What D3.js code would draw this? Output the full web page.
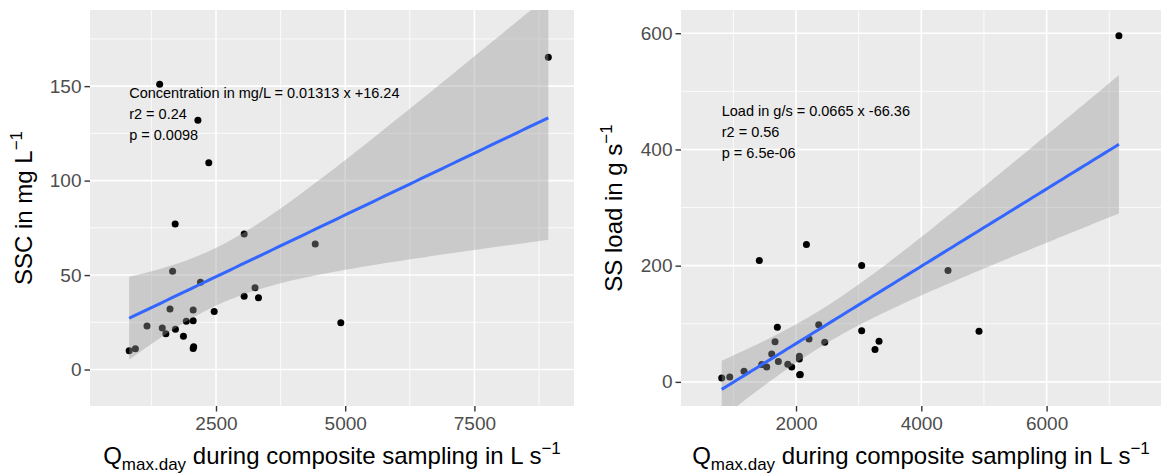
<!DOCTYPE html>
<html><head><meta charset="utf-8">
<script src="https://cdn.jsdelivr.net/npm/d3@7"></script>
<style>
body{margin:0;background:#fff}
svg{display:block}
text{font-family:"Liberation Sans",Arial,Helvetica,sans-serif}
</style>
</head><body>
<svg id="chart" width="1161" height="476"></svg>
<script>
// ---------- data ----------
const qConc = [820, 940, 1165, 1410, 1460, 1530, 1610, 1660, 1710, 1715, 1870, 1925, 2058, 2058, 2058, 2068, 2150, 2200, 2360, 2465, 3045, 3045, 3255, 3322, 4420, 4915, 8930];
const ssc   = [10.0, 11.0, 23.0, 151.0, 22.0, 19.0, 32.0, 52.0, 77.0, 21.3, 17.6, 25.6, 25.8, 31.5, 11.2, 12.0, 132.0, 46.2, 109.5, 30.7, 71.8, 38.8, 43.3, 38.0, 66.5, 24.7, 165.3];

const qLoad = [814, 942, 1170, 1414, 1453, 1532, 1612, 1665, 1702, 1718, 1868, 1931, 2053, 2053, 2058, 2068, 2166, 2208, 2362, 2458, 3048, 3048, 3261, 3325, 4426, 4921, 7154];
const load  = [6.9, 8.6, 18.4, 208.8, 30.0, 25.8, 48.2, 68.9, 94.2, 35.1, 30.5, 25.8, 44.3, 39.6, 12.1, 12.8, 236.4, 73.6, 98.2, 68.4, 200.2, 87.9, 55.8, 70.1, 191.6, 87.3, 595.5];

const concXTicks = [2500, 5000, 7500];
const concYTicks = [0, 50, 100, 150];
const loadXTicks = [2000, 4000, 6000];
const loadYTicks = [0, 200, 400, 600];

const concDomainX = [62, 9427];
const concDomainY = [-19.3, 190.3];
const loadDomainX = [164, 7826];
const loadDomainY = [-41.5, 640];

const concLabels = ["Concentration in mg/L = 0.01313 x +16.24", "r2 = 0.24", "p = 0.0098"];
const loadLabels = ["Load in g/s = 0.0665 x -66.36", "r2 = 0.56", "p = 6.5e-06"];

// ---------- helpers ----------
const svg = d3.select("#chart");
const T975 = 2.0595; // qt(0.975, df = 25)

function lmFit(xs, ys) {
  const n = xs.length;
  const xb = d3.mean(xs), yb = d3.mean(ys);
  let sxx = 0, sxy = 0;
  for (let i = 0; i < n; i++) { sxx += (xs[i]-xb)**2; sxy += (xs[i]-xb)*(ys[i]-yb); }
  const b = sxy / sxx, a = yb - b*xb;
  let sse = 0;
  for (let i = 0; i < n; i++) sse += (ys[i] - a - b*xs[i])**2;
  const s = Math.sqrt(sse / (n-2));
  const x0 = d3.min(xs), x1 = d3.max(xs);
  const pts = d3.range(80).map(k => {
    const x = x0 + (x1-x0)*k/79;
    const fit = a + b*x;
    const se = s*Math.sqrt(1/n + (x-xb)**2/sxx);
    return {x, fit, lo: fit - T975*se, hi: fit + T975*se};
  });
  return {a, b, pts};
}

function minorTicks(major, domain) {
  const step = major[1]-major[0];
  const out = [];
  for (let v = major[0]-step/2; v <= domain[1]; v += step) if (v >= domain[0]) out.push(v);
  for (let v = major[0]-step/2-step; v >= domain[0]; v -= step) out.push(v);
  return out;
}

function panel(cfg) {
  const {left, right, top, bottom, xs, ys, dx, dy, xt, yt, id} = cfg;
  const x = d3.scaleLinear().domain(dx).range([left, right]);
  const y = d3.scaleLinear().domain(dy).range([bottom, top]);
  const g = svg.append("g");

  g.append("clipPath").attr("id", id).append("rect")
    .attr("x", left).attr("y", top).attr("width", right-left).attr("height", bottom-top);

  g.append("rect").attr("x", left).attr("y", top).attr("width", right-left).attr("height", bottom-top)
    .attr("fill", "#EBEBEB");

  const grid = g.append("g").attr("clip-path", `url(#${id})`);
  grid.selectAll(".mx").data(minorTicks(xt, dx)).join("line")
    .attr("x1", d => x(d)).attr("x2", d => x(d)).attr("y1", top).attr("y2", bottom)
    .attr("stroke", "#fff").attr("stroke-width", 0.8);
  grid.selectAll(".my").data(minorTicks(yt, dy)).join("line")
    .attr("y1", d => y(d)).attr("y2", d => y(d)).attr("x1", left).attr("x2", right)
    .attr("stroke", "#fff").attr("stroke-width", 0.8);
  grid.selectAll(".Mx").data(xt).join("line")
    .attr("x1", d => x(d)).attr("x2", d => x(d)).attr("y1", top).attr("y2", bottom)
    .attr("stroke", "#fff").attr("stroke-width", 1.6);
  grid.selectAll(".My").data(yt).join("line")
    .attr("y1", d => y(d)).attr("y2", d => y(d)).attr("x1", left).attr("x2", right)
    .attr("stroke", "#fff").attr("stroke-width", 1.6);

  const plot = g.append("g").attr("clip-path", `url(#${id})`);
  plot.selectAll("circle").data(xs.map((v, i) => [v, ys[i]])).join("circle")
    .attr("cx", d => x(d[0])).attr("cy", d => y(d[1])).attr("r", 3.5).attr("fill", "#000");

  const fit = lmFit(xs, ys);
  plot.append("path").datum(fit.pts)
    .attr("d", d3.area().x(d => x(d.x)).y0(d => y(d.lo)).y1(d => y(d.hi)))
    .attr("fill", "#999999").attr("fill-opacity", 0.4);
  plot.append("path").datum(fit.pts)
    .attr("d", d3.line().x(d => x(d.x)).y(d => y(d.fit)))
    .attr("fill", "none").attr("stroke", "#3366FF").attr("stroke-width", 3);

  // labels
  const lab = g.append("g").attr("font-size", "14.5px").attr("fill", "#000");
  cfg.labels.forEach((t, i) => {
    lab.append("text").attr("x", x(d3.min(xs))).attr("y", cfg.labelY + i*21).text(t);
  });

  // axes
  const ax = g.append("g").attr("transform", `translate(0,${bottom})`)
    .call(d3.axisBottom(x).tickValues(xt).tickSize(5.5).tickPadding(5).tickFormat(d3.format("d")));
  const ay = g.append("g").attr("transform", `translate(${left},0)`)
    .call(d3.axisLeft(y).tickValues(yt).tickSize(5.5).tickPadding(3).tickFormat(d3.format("d")));
  [ax, ay].forEach(a => {
    a.select(".domain").remove();
    a.selectAll(".tick line").attr("stroke", "#333333").attr("stroke-width", 1.4);
    a.selectAll(".tick text").attr("fill", "#4D4D4D").attr("font-size", "19px")
      .attr("font-family", '"Liberation Sans",Arial,sans-serif');
  });

  // x title
  const xtText = g.append("text").attr("x", (left+right)/2).attr("y", 464)
    .attr("text-anchor", "middle").attr("font-size", "24px").attr("fill", "#000");
  xtText.append("tspan").text("Q");
  xtText.append("tspan").attr("font-size", "17px").attr("dy", 6).text("max.day");
  xtText.append("tspan").attr("dy", -6).text(" during composite sampling in L s");
  xtText.append("tspan").attr("font-size", "17px").attr("dy", -10).text("\u22121");

  // y title
  const ytText = g.append("text").attr("transform", `translate(${cfg.yTitleX},${(top+bottom)/2}) rotate(-90)`)
    .attr("text-anchor", "middle").attr("font-size", "24px").attr("fill", "#000");
  ytText.append("tspan").text(cfg.yTitle);
  ytText.append("tspan").attr("font-size", "17px").attr("dy", -10).text("\u22121");
}

panel({id: "clipA", left: 90, right: 574, top: 10, bottom: 406,
  xs: qConc, ys: ssc, dx: concDomainX, dy: concDomainY, xt: concXTicks, yt: concYTicks,
  labels: concLabels, labelY: 98, yTitle: "SSC in mg L", yTitleX: 32});

panel({id: "clipB", left: 681, right: 1161, top: 10, bottom: 406,
  xs: qLoad, ys: load, dx: loadDomainX, dy: loadDomainY, xt: loadXTicks, yt: loadYTicks,
  labels: loadLabels, labelY: 116, yTitle: "SS load in g s", yTitleX: 621.5});
</script>
</body></html>
